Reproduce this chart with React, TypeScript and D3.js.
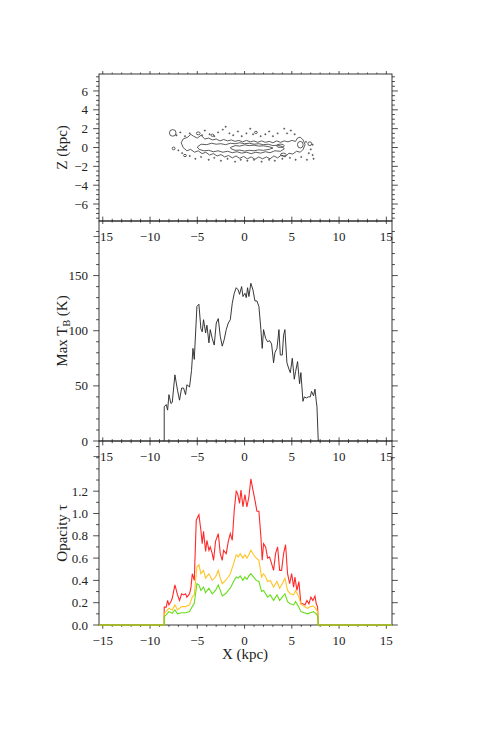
import { useRef, useEffect } from "react";
import * as d3 from "d3";

// ---- data ----
// x axis (kpc) ticks, shared by the three panels
const xMajorTicks = [-15, -10, -5, 0, 5, 10, 15];
const xMinorTicks = d3.range(-15, 16, 1);

// top panel: Z (kpc)
const zMajorTicks = [-6, -4, -2, 0, 2, 4, 6];
const zMinorTicks = d3.range(-7.5, 7.6, 0.5);

// contour rings of the disc, [X, Z] in kpc
const outerContour: [number, number][] = [
  [-6.7, 0.5], [-6.5, 0.9], [-6.0, 1.1], [-5.7, 1.4], [-5.4, 1.2], [-5.0, 1.0], [-4.6, 1.3], [-4.2, 0.9],
  [-3.8, 1.0], [-3.4, 0.8], [-3.0, 0.9], [-2.6, 0.7], [-2.2, 0.85], [-1.8, 0.7], [-1.4, 0.8], [-1.0, 0.65],
  [-0.6, 0.75], [-0.2, 0.6], [0.2, 0.75], [0.6, 0.6], [1.0, 0.7], [1.4, 0.55], [1.8, 0.7], [2.2, 0.55],
  [2.6, 0.65], [3.0, 0.5], [3.4, 0.7], [3.8, 0.55], [4.2, 0.7], [4.6, 0.6], [5.0, 0.75], [5.4, 0.65],
  [5.6, 1.0], [5.9, 1.1], [6.2, 0.8], [6.4, 0.3], [6.2, -0.2], [5.9, -0.5], [5.5, -0.4], [5.1, -0.7],
  [4.7, -0.6], [4.3, -1.0], [3.9, -0.8], [3.5, -1.1], [3.1, -0.9], [2.7, -1.2], [2.3, -1.0], [1.9, -1.2],
  [1.5, -1.0], [1.1, -1.25], [0.7, -1.0], [0.3, -1.2], [-0.1, -0.95], [-0.5, -1.15], [-0.9, -0.9],
  [-1.3, -1.1], [-1.7, -0.85], [-2.1, -1.0], [-2.5, -0.75], [-2.9, -0.9], [-3.3, -0.65], [-3.7, -0.8],
  [-4.1, -0.5], [-4.5, -0.65], [-4.9, -0.35], [-5.3, -0.5], [-5.7, -0.2], [-6.1, -0.35], [-6.5, 0.0],
];
const middleContour: [number, number][] = [
  [-5.0, 0.05], [-4.6, 0.35], [-4.0, 0.3], [-3.5, 0.45], [-3.0, 0.35], [-2.5, 0.4], [-2.0, 0.3], [-1.5, 0.45],
  [-1.0, 0.4], [-0.5, 0.5], [0.0, 0.4], [0.5, 0.45], [1.0, 0.35], [1.5, 0.4], [2.0, 0.3], [2.5, 0.35],
  [3.0, 0.2], [3.5, 0.25], [4.0, 0.1], [4.2, -0.15], [3.8, -0.4], [3.2, -0.35], [2.7, -0.55], [2.2, -0.45],
  [1.7, -0.6], [1.2, -0.5], [0.7, -0.65], [0.2, -0.5], [-0.3, -0.6], [-0.8, -0.45], [-1.3, -0.55],
  [-1.8, -0.4], [-2.3, -0.5], [-2.8, -0.35], [-3.3, -0.45], [-3.8, -0.3], [-4.3, -0.35], [-4.8, -0.2],
];
const innerContour: [number, number][] = [
  [-1.5, 0.0], [-1.0, 0.2], [-0.5, 0.15], [0.0, 0.28], [0.5, 0.2], [1.0, 0.25], [1.5, 0.15], [2.0, 0.18],
  [2.6, 0.08], [3.0, -0.05], [2.6, -0.2], [2.0, -0.3], [1.5, -0.25], [1.0, -0.35], [0.5, -0.3], [0.0, -0.38],
  [-0.5, -0.28], [-1.0, -0.3], [-1.4, -0.15],
];
// small closed contours: [X, Z, half-width, half-height]
const smallRings: [number, number, number, number][] = [
  [-7.6, 1.55, 0.35, 0.35], [-7.5, -0.1, 0.15, 0.15], [-6.3, -0.85, 0.15, 0.12], [3.8, 0.18, 0.4, 0.18],
  [4.1, -0.75, 0.3, 0.15], [5.9, 0.3, 0.3, 0.35], [-4.9, 1.5, 0.2, 0.15], [-3.4, 1.3, 0.15, 0.12],
  [1.2, 1.6, 0.15, 0.12], [6.9, 0.4, 0.2, 0.2],
];
// isolated specks above/below the disc
const specks: [number, number][] = [
  [-7.2, 1.3], [-6.8, 1.6], [-6.3, 1.2], [-5.8, 1.5], [-4.5, 1.3], [-4.2, 1.8], [-3.7, 1.4], [-3.2, 1.2],
  [-2.8, 1.6], [-2.3, 1.9], [-2.0, 2.2], [-1.6, 1.5], [-1.2, 1.3], [-0.7, 1.7], [-0.3, 1.2], [0.2, 1.5],
  [0.6, 2.0], [0.9, 1.4], [1.7, 1.2], [2.2, 1.4], [2.6, 1.7], [3.0, 1.2], [3.5, 1.5], [4.2, 2.0],
  [4.5, 1.5], [4.9, 1.8], [5.3, 1.4], [6.5, 0.6], [7.2, 0.3], [7.0, -0.2], [-7.0, -0.3], [-6.6, -0.6],
  [-5.8, -0.9], [-5.2, -1.2], [-4.6, -1.0], [-3.8, -1.3], [-3.2, -1.1], [-2.5, -1.4], [-1.8, -1.2],
  [-1.0, -1.5], [-0.4, -1.3], [0.3, -1.4], [1.0, -1.3], [1.8, -1.5], [2.6, -1.3], [3.2, -1.4], [4.0, -1.2],
  [4.8, -1.1], [5.4, -1.3], [6.0, -1.0], [6.6, -1.3], [7.3, -1.2], [7.2, -0.8], [6.8, -0.6],
];

// middle panel: Max T_B (K)
const tbLabelTicks = [0, 50, 100, 150];
const tbMinorTicks = d3.range(0, 200, 10);
const maxTB: [number, number][] = [
  [-8.5, 0], [-8.5, 31], [-8.29, 33], [-8.14, 28], [-8.0, 42], [-7.79, 34], [-7.65, 35], [-7.37, 60],
  [-7.09, 46], [-6.88, 37], [-6.66, 48], [-6.45, 48], [-6.24, 42], [-6.1, 51], [-5.82, 49], [-5.61, 64],
  [-5.46, 84], [-5.32, 74], [-5.04, 122], [-4.83, 124], [-4.62, 102], [-4.48, 99], [-4.34, 110],
  [-4.12, 98], [-3.98, 105], [-3.77, 89], [-3.63, 101], [-3.42, 93], [-3.21, 87], [-2.99, 107],
  [-2.78, 111], [-2.57, 95], [-2.36, 86], [-2.15, 92], [-1.94, 101], [-1.72, 107], [-1.51, 110],
  [-1.3, 125], [-1.09, 134], [-0.88, 139], [-0.67, 137], [-0.53, 133], [-0.31, 140], [-0.17, 131],
  [0.04, 134], [0.18, 130], [0.32, 139], [0.46, 131], [0.67, 143], [0.89, 137], [1.1, 127], [1.31, 127],
  [1.52, 122], [1.73, 101], [1.87, 84], [2.01, 101], [2.23, 93], [2.44, 90], [2.65, 91], [2.86, 88],
  [3.07, 71], [3.21, 80], [3.43, 84], [3.64, 101], [3.78, 78], [3.99, 78], [4.13, 96], [4.27, 101],
  [4.48, 71], [4.7, 65], [4.84, 62], [5.05, 75], [5.26, 56], [5.4, 63], [5.61, 72], [5.82, 52], [5.96, 62],
  [6.18, 36], [6.32, 40], [6.53, 39], [6.74, 40], [6.95, 40], [7.09, 45], [7.3, 41], [7.45, 47],
  [7.59, 36], [7.66, 31], [7.8, 0],
];

// bottom panel: opacity tau
const tauLabelTicks = [0, 0.2, 0.4, 0.6, 0.8, 1.0, 1.2];
const tauMinorTicks = d3.range(0, 1.65, 0.1);
const tauRed: [number, number][] = [
  [-15.4, 0], [-8.5, 0], [-8.5, 0.16], [-8.29, 0.16], [-8.14, 0.22], [-8.0, 0.18], [-7.79, 0.21],
  [-7.65, 0.24], [-7.37, 0.36], [-7.09, 0.27], [-6.88, 0.22], [-6.66, 0.28], [-6.45, 0.27], [-6.24, 0.28],
  [-6.1, 0.25], [-5.82, 0.28], [-5.68, 0.33], [-5.53, 0.46], [-5.32, 0.4], [-5.11, 0.94], [-4.83, 0.99],
  [-4.62, 0.85], [-4.48, 0.73], [-4.34, 0.84], [-4.12, 0.66], [-3.98, 0.76], [-3.77, 0.67], [-3.63, 0.7],
  [-3.42, 0.64], [-3.28, 0.58], [-3.07, 0.75], [-2.78, 0.82], [-2.57, 0.64], [-2.36, 0.58], [-2.22, 0.67],
  [-1.94, 0.64], [-1.72, 0.75], [-1.51, 0.82], [-1.3, 0.76], [-1.09, 1.03], [-0.88, 1.2], [-0.74, 1.18],
  [-0.53, 1.09], [-0.38, 1.21], [-0.17, 1.06], [0.04, 1.17], [0.25, 1.06], [0.46, 1.15], [0.67, 1.31],
  [0.89, 1.21], [1.1, 1.12], [1.31, 1.02], [1.52, 1.02], [1.73, 0.79], [1.87, 0.58], [2.01, 0.73],
  [2.23, 0.7], [2.44, 0.6], [2.65, 0.61], [2.86, 0.55], [3.07, 0.49], [3.28, 0.64], [3.5, 0.7], [3.71, 0.49],
  [3.92, 0.49], [4.13, 0.64], [4.34, 0.72], [4.55, 0.46], [4.77, 0.37], [4.98, 0.46], [5.19, 0.34],
  [5.33, 0.43], [5.54, 0.31], [5.75, 0.39], [5.96, 0.19], [6.18, 0.19], [6.39, 0.18], [6.6, 0.22],
  [6.81, 0.19], [7.02, 0.25], [7.23, 0.22], [7.45, 0.26], [7.59, 0.19], [7.73, 0.16], [7.8, 0], [15.6, 0],
];
const tauOrange: [number, number][] = [
  [-15.4, 0], [-8.5, 0], [-8.5, 0.105], [-8.29, 0.12], [-8.0, 0.15], [-7.65, 0.135], [-7.37, 0.18],
  [-7.09, 0.135], [-6.66, 0.165], [-6.24, 0.165], [-5.82, 0.18], [-5.53, 0.25], [-5.32, 0.27],
  [-5.04, 0.52], [-4.83, 0.54], [-4.62, 0.46], [-4.34, 0.49], [-4.12, 0.42], [-3.77, 0.46], [-3.42, 0.4],
  [-3.07, 0.43], [-2.78, 0.49], [-2.57, 0.42], [-2.36, 0.37], [-2.01, 0.4], [-1.72, 0.43], [-1.51, 0.46],
  [-1.16, 0.55], [-0.88, 0.63], [-0.67, 0.61], [-0.46, 0.64], [-0.17, 0.6], [0.04, 0.63], [0.25, 0.6],
  [0.46, 0.63], [0.67, 0.67], [0.96, 0.63], [1.24, 0.6], [1.52, 0.58], [1.8, 0.43], [2.01, 0.46],
  [2.23, 0.43], [2.44, 0.39], [2.72, 0.4], [3.07, 0.34], [3.43, 0.39], [3.71, 0.33], [3.99, 0.37],
  [4.27, 0.42], [4.55, 0.31], [4.84, 0.28], [5.19, 0.27], [5.4, 0.31], [5.75, 0.25], [5.96, 0.19],
  [6.32, 0.165], [6.67, 0.15], [6.95, 0.165], [7.3, 0.17], [7.59, 0.14], [7.73, 0.12], [7.8, 0], [15.6, 0],
];
const tauGreen: [number, number][] = [
  [-15.4, 0], [-8.5, 0], [-8.5, 0.075], [-8.29, 0.09], [-8.0, 0.12], [-7.65, 0.105], [-7.37, 0.135],
  [-7.09, 0.1], [-6.66, 0.11], [-6.24, 0.11], [-5.82, 0.12], [-5.53, 0.165], [-5.32, 0.195], [-5.04, 0.37],
  [-4.83, 0.36], [-4.62, 0.31], [-4.34, 0.34], [-4.12, 0.29], [-3.77, 0.33], [-3.42, 0.28], [-3.07, 0.31],
  [-2.78, 0.36], [-2.57, 0.31], [-2.36, 0.26], [-2.01, 0.28], [-1.72, 0.31], [-1.51, 0.33], [-1.16, 0.39],
  [-0.88, 0.43], [-0.67, 0.42], [-0.46, 0.44], [-0.17, 0.4], [0.04, 0.43], [0.25, 0.41], [0.46, 0.44],
  [0.67, 0.46], [0.96, 0.43], [1.24, 0.4], [1.52, 0.39], [1.8, 0.3], [2.01, 0.31], [2.23, 0.28],
  [2.44, 0.25], [2.72, 0.27], [3.07, 0.22], [3.43, 0.27], [3.71, 0.22], [3.99, 0.25], [4.27, 0.28],
  [4.55, 0.21], [4.84, 0.19], [5.19, 0.18], [5.4, 0.21], [5.75, 0.16], [5.96, 0.12], [6.32, 0.11],
  [6.67, 0.1], [6.95, 0.11], [7.3, 0.12], [7.59, 0.1], [7.73, 0.08], [7.8, 0], [15.6, 0],
];

const FONT = "'Liberation Serif', 'DejaVu Serif', serif";
const INK = "#222";
const minus = (v: number) => (v < 0 ? "\u2212" + Math.abs(v) : String(v));

export default function App() {
  const svgRef = useRef<SVGSVGElement>(null);

  useEffect(() => {
    const svg = d3.select(svgRef.current);
    svg.selectAll("*").remove();

    const left = 99, right = 392;
    const x = d3.scaleLinear().domain([-15.4, 15.6]).range([left, right]);

    // draws frame, outward ticks and tick labels of one panel
    const frame = (
      top: number, bottom: number,
      y: d3.ScaleLinear<number, number>,
      yMinor: number[], yMajor: number[], fmt: (v: number) => string,
    ) => {
      const g = svg.append("g");
      const xt = 0.02 * (bottom - top);
      const yt = 0.02 * (right - left);
      g.append("rect")
        .attr("x", left).attr("y", top)
        .attr("width", right - left).attr("height", bottom - top)
        .attr("fill", "none").attr("stroke", INK).attr("stroke-width", 0.9);

      const xTicks = xMinorTicks.map((v) => ({ v, len: xMajorTicks.includes(v) ? xt : xt / 2 }));
      g.selectAll(".xb").data(xTicks).enter().append("line")
        .attr("x1", (d) => x(d.v)).attr("x2", (d) => x(d.v))
        .attr("y1", bottom).attr("y2", (d) => bottom + d.len)
        .attr("stroke", INK).attr("stroke-width", 0.8);
      g.selectAll(".xt").data(xTicks).enter().append("line")
        .attr("x1", (d) => x(d.v)).attr("x2", (d) => x(d.v))
        .attr("y1", top).attr("y2", (d) => top - d.len)
        .attr("stroke", INK).attr("stroke-width", 0.8);

      const yTicks = yMinor.map((v) => ({
        v, len: yMajor.some((m) => Math.abs(m - v) < 1e-6) ? yt : yt / 2,
      }));
      g.selectAll(".yl").data(yTicks).enter().append("line")
        .attr("x1", left).attr("x2", (d) => left - d.len)
        .attr("y1", (d) => y(d.v)).attr("y2", (d) => y(d.v))
        .attr("stroke", INK).attr("stroke-width", 0.8);
      g.selectAll(".yr").data(yTicks).enter().append("line")
        .attr("x1", right).attr("x2", (d) => right + d.len)
        .attr("y1", (d) => y(d.v)).attr("y2", (d) => y(d.v))
        .attr("stroke", INK).attr("stroke-width", 0.8);

      // x labels sit below each panel's bottom axis
      g.selectAll(".xlab").data(xMajorTicks).enter().append("text")
        .attr("x", (d) => x(d)).attr("y", bottom + 19.5)
        .attr("text-anchor", "middle")
        .attr("font-family", FONT).attr("font-size", "13px").attr("fill", INK)
        .text((d) => minus(d));

      g.selectAll(".ylab").data(yMajor).enter().append("text")
        .attr("x", 88).attr("y", (d) => y(d))
        .attr("dy", "0.35em")
        .attr("text-anchor", "end")
        .attr("font-family", FONT).attr("font-size", "13px").attr("fill", INK)
        .text((d) => fmt(d));
      return g;
    };

    const yTitle = (cy: number) =>
      svg.append("text")
        .attr("transform", `translate(67,${cy}) rotate(-90)`)
        .attr("text-anchor", "middle")
        .attr("font-family", FONT).attr("font-size", "15px").attr("fill", INK);

    // ---- top panel: contours ----
    const z = d3.scaleLinear().domain([-7.8, 7.8]).range([221, 74]);
    frame(74, 221, z, zMinorTicks, zMajorTicks, minus);
    yTitle(147.5).text("Z (kpc)");

    const ring = d3.line<[number, number]>()
      .x((d) => x(d[0])).y((d) => z(d[1]))
      .curve(d3.curveLinearClosed);
    svg.append("g").selectAll("path")
      .data([outerContour, middleContour, innerContour])
      .enter().append("path")
      .attr("d", (d) => ring(d))
      .attr("fill", "none").attr("stroke", "#333").attr("stroke-width", 0.8);
    svg.append("g").selectAll("ellipse").data(smallRings).enter().append("ellipse")
      .attr("cx", (d) => x(d[0])).attr("cy", (d) => z(d[1]))
      .attr("rx", (d) => x(d[2]) - x(0)).attr("ry", (d) => z(0) - z(d[3]))
      .attr("fill", "none").attr("stroke", "#333").attr("stroke-width", 0.8);
    svg.append("g").selectAll("circle").data(specks).enter().append("circle")
      .attr("cx", (d) => x(d[0])).attr("cy", (d) => z(d[1]))
      .attr("r", 0.7)
      .attr("fill", "#555").attr("stroke", "#555").attr("stroke-width", 0.5);

    // ---- middle panel: max brightness temperature ----
    const yTB = d3.scaleLinear().domain([0, 199.5]).range([441, 221]);
    frame(221, 441, yTB, tbMinorTicks, tbLabelTicks, (v) => String(v));
    const tTitle = yTitle(331);
    tTitle.append("tspan").text("Max T");
    tTitle.append("tspan").attr("font-size", "10px").attr("dy", "3").text("B");
    tTitle.append("tspan").attr("dy", "-3").text(" (K)");

    const lineTB = d3.line<[number, number]>().x((d) => x(d[0])).y((d) => yTB(d[1]));
    svg.append("path").attr("d", lineTB(maxTB))
      .attr("fill", "none").attr("stroke", "#222").attr("stroke-width", 0.9);

    // ---- bottom panel: opacity ----
    const yTau = d3.scaleLinear().domain([0, 1.65]).range([625, 441]);
    frame(441, 625, yTau, tauMinorTicks, tauLabelTicks, d3.format(".1f"));
    yTitle(533).text("Opacity \u03C4");

    const lineTau = d3.line<[number, number]>().x((d) => x(d[0])).y((d) => yTau(d[1]));
    const series: [[number, number][], string][] = [
      [tauRed, "#ff2a2a"], [tauOrange, "#ffc428"], [tauGreen, "#66dd1a"],
    ];
    svg.append("g").selectAll("path").data(series).enter().append("path")
      .attr("d", (d) => lineTau(d[0]))
      .attr("fill", "none").attr("stroke", (d) => d[1]).attr("stroke-width", 1.1);

    svg.append("text")
      .attr("x", 245).attr("y", 659)
      .attr("text-anchor", "middle")
      .attr("font-family", FONT).attr("font-size", "15px").attr("fill", INK)
      .text("X (kpc)");
  }, []);

  return (
    <svg
      ref={svgRef}
      width={491}
      height={736}
      style={{ position: "absolute", left: 0, top: 0, background: "#fff" }}
    />
  );
}
